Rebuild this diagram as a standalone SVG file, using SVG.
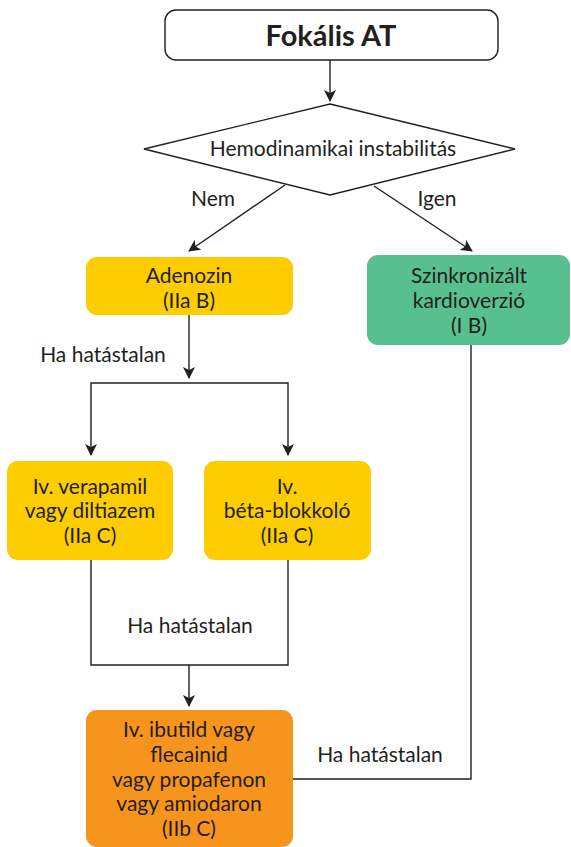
<svg xmlns="http://www.w3.org/2000/svg" width="571" height="847" viewBox="0 0 571 847">
  <defs>
    <marker id="arrow" viewBox="0 0 12 12" refX="11" refY="6" markerWidth="12" markerHeight="12" markerUnits="userSpaceOnUse" orient="auto">
      <path d="M0,0 L12,6 L0,12 L3,6 z" fill="#231f20"/>
    </marker>
    <style>
      .lbl { font-family: "Lato", "Liberation Sans", sans-serif; font-size: 21px; fill: #231f20; text-anchor: middle; }
      .edge { fill: none; stroke: #231f20; stroke-width: 1.4; }
      .yellow { fill: #fecd00; }
      .green { fill: #58c08f; }
      .orange { fill: #f7941d; }
    </style>
  </defs>

  <!-- connectors -->
  <g id="connectors">
    <line class="edge" x1="330" y1="60" x2="330" y2="101" marker-end="url(#arrow)"/>
    <line class="edge" x1="285" y1="185" x2="189" y2="251" marker-end="url(#arrow)"/>
    <line class="edge" x1="374" y1="186" x2="472" y2="251" marker-end="url(#arrow)"/>
    <line class="edge" x1="189" y1="315" x2="189" y2="378" marker-end="url(#arrow)"/>
    <polyline class="edge" points="189,383 91,383 91,455" marker-end="url(#arrow)"/>
    <polyline class="edge" points="189,383 288,383 288,455" marker-end="url(#arrow)"/>
    <polyline class="edge" points="91,560 91,665 288,665 288,560"/>
    <line class="edge" x1="189" y1="665" x2="189" y2="706" marker-end="url(#arrow)"/>
    <polyline class="edge" points="471,345 471,779 293,779"/>
    <text class="lbl" x="213" y="206">Nem</text>
    <text class="lbl" x="437" y="206">Igen</text>
    <text class="lbl" x="103" y="362">Ha hatástalan</text>
    <text class="lbl" x="190" y="633">Ha hatástalan</text>
    <text class="lbl" x="380" y="762">Ha hatástalan</text>
  </g>

  <!-- start -->
  <g id="start">
    <rect x="165" y="10" width="333" height="50" rx="11" fill="#ffffff" stroke="#231f20" stroke-width="1.4"/>
    <text class="lbl" x="331" y="46" style="font-size:29px;font-weight:bold">Fokális AT</text>
  </g>

  <!-- decision -->
  <g id="decision">
    <polygon points="330,104 515,149 330,195 144,149" fill="#ffffff" stroke="#231f20" stroke-width="1.4"/>
    <text class="lbl" x="333" y="156">Hemodinamikai instabilitás</text>
  </g>

  <g id="adenozin">
    <rect class="yellow" x="86" y="257" width="207" height="58" rx="11"/>
    <text class="lbl" x="189" y="283">Adenozin</text>
    <text class="lbl" x="189" y="308">(IIa B)</text>
  </g>

  <g id="cardioversion">
    <rect class="green" x="367" y="255" width="203" height="90" rx="11"/>
    <text class="lbl" x="469" y="283">Szinkronizált</text>
    <text class="lbl" x="469" y="308">kardioverzió</text>
    <text class="lbl" x="469" y="333">(I B)</text>
  </g>

  <g id="verapamil">
    <rect class="yellow" x="7" y="461" width="166" height="99" rx="11"/>
    <text class="lbl" x="90" y="494">Iv. verapamil</text>
    <text class="lbl" x="90" y="518">vagy diltiazem</text>
    <text class="lbl" x="90" y="543">(IIa C)</text>
  </g>

  <g id="betablocker">
    <rect class="yellow" x="204" y="461" width="167" height="99" rx="11"/>
    <text class="lbl" x="287" y="494">Iv.</text>
    <text class="lbl" x="287" y="518">béta-blokkoló</text>
    <text class="lbl" x="287" y="543">(IIa C)</text>
  </g>

  <g id="antiarrhythmic">
    <rect class="orange" x="86" y="710" width="207" height="137" rx="11"/>
    <text class="lbl" x="189" y="737">Iv. ibutild vagy</text>
    <text class="lbl" x="189" y="762">flecainid</text>
    <text class="lbl" x="189" y="787">vagy propafenon</text>
    <text class="lbl" x="189" y="811">vagy amiodaron</text>
    <text class="lbl" x="189" y="836">(IIb C)</text>
  </g>
</svg>
